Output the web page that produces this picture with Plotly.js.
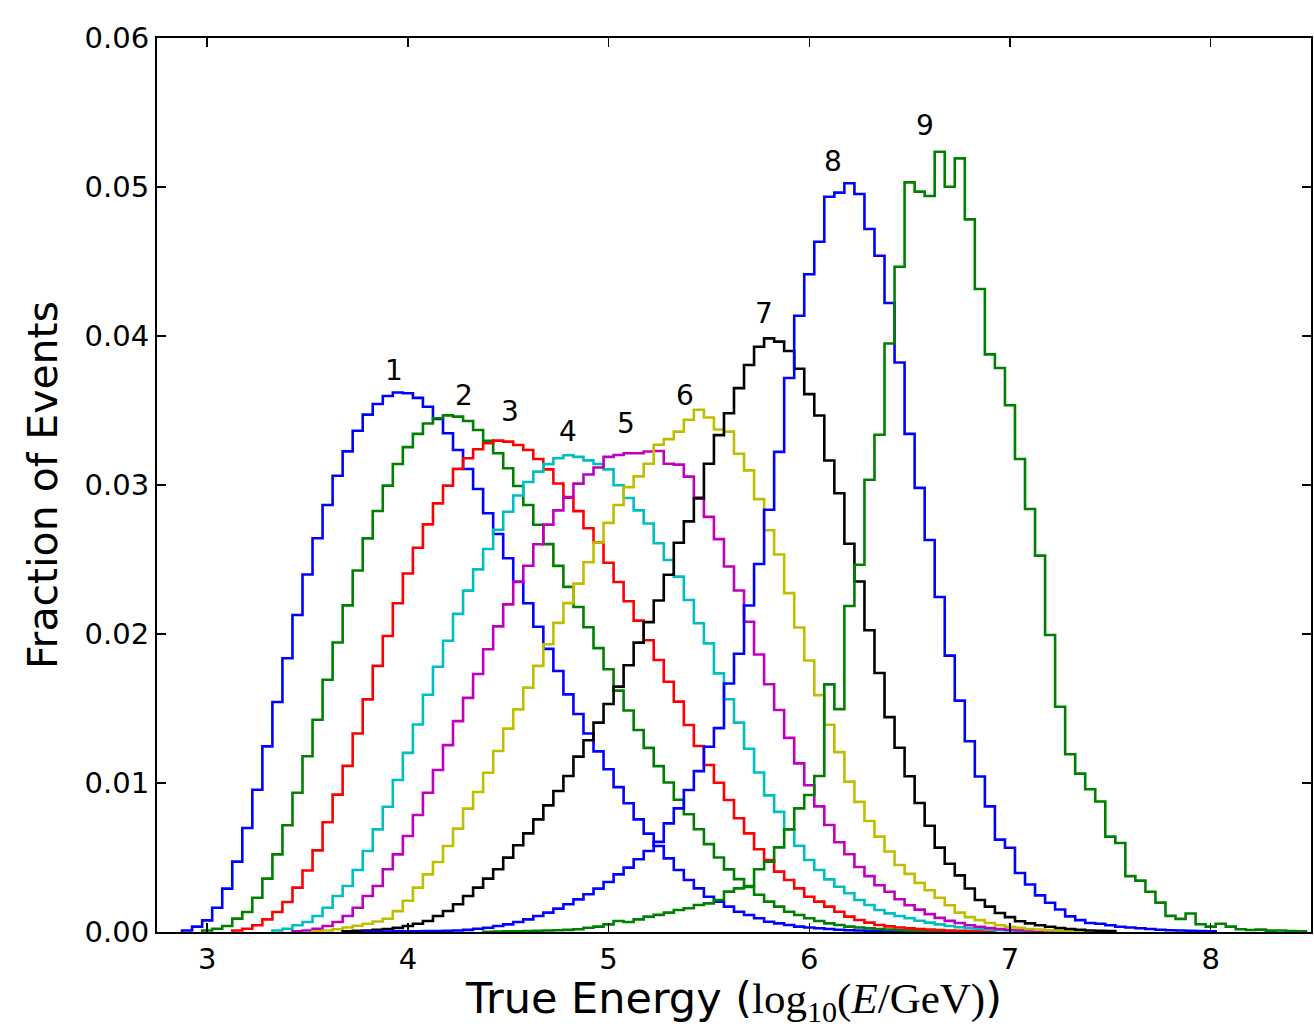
<!DOCTYPE html>
<html>
<head>
<meta charset="utf-8">
<script src="https://cdn.plot.ly/plotly-3.0.1.min.js"></script>
<style>html,body{margin:0;padding:0;background:#fff}#chart{width:1314px;height:1029px}</style>
</head>
<body>
<div id="chart"></div>
<script>
// Bin width of the histograms (log10 E / GeV)
const BIN_WIDTH = 0.05;

// Curve labels
const curveLabels = ['1', '2', '3', '4', '5', '6', '7', '8', '9'];

// Centre of the first bin of each series
const firstBin = [2.90, 3.00, 3.15, 3.35, 3.45, 3.55, 3.70, 3.80, 4.40];

// Fraction of events per bin (one value per 0.05 bin, starting at firstBin)
const series1 = [0.0001,0.00036,0.00078,0.00163,0.00291,0.00472,0.00698,0.00955,0.01246,0.01544,0.01837,0.02128,0.02399,0.02643,0.02866,0.03062,0.03226,0.03364,0.03472,0.03544,0.03597,0.03621,0.03616,0.03585,0.03525,0.03443,0.03347,0.03235,0.03107,0.02973,0.0281,0.02671,0.02508,0.02351,0.02206,0.02049,0.019,0.01752,0.01595,0.01463,0.01332,0.01212,0.01092,0.00972,0.00864,0.00756,0.0066,0.00577,0.00494,0.00416,0.00349,0.00293,0.00237,0.00204,0.0017,0.00136,0.00114,0.00092,0.00069,0.00058,0.00047,0.00036,0.0003,0.00025,0.0002,0.00015,0.00012,0.0001,0.00008,0.00006,0.00005,0.00004,0.00003];
const series2 = [0.0001,0.00022,0.0004,0.0009,0.00134,0.0023,0.00358,0.00521,0.00716,0.00935,0.0118,0.01425,0.01693,0.01943,0.02192,0.02426,0.02642,0.02826,0.02996,0.03141,0.03254,0.03343,0.03413,0.03448,0.03467,0.03459,0.0343,0.03369,0.03297,0.03213,0.03112,0.02993,0.02866,0.02733,0.02603,0.02457,0.02316,0.02181,0.02045,0.01905,0.01763,0.0162,0.01487,0.01356,0.01236,0.01113,0.01003,0.00888,0.0079,0.0069,0.0059,0.005,0.0042,0.00355,0.00303,0.0025,0.00204,0.0017,0.00136,0.00114,0.00092,0.00074,0.00058,0.00047,0.00036,0.0003,0.00025,0.0002,0.00016,0.00013,0.0001,0.00008,0.00006,0.00005,0.00004];
const series3 = [0.0001,0.00022,0.00045,0.00085,0.00134,0.00201,0.00298,0.00413,0.00548,0.00737,0.00922,0.01115,0.01332,0.01561,0.01786,0.01987,0.02206,0.02406,0.02579,0.02736,0.02877,0.02996,0.03108,0.0318,0.0324,0.0328,0.03298,0.03291,0.03268,0.03235,0.03175,0.03105,0.0301,0.02915,0.02825,0.0271,0.02615,0.02478,0.02349,0.0222,0.0209,0.01958,0.01826,0.0168,0.01546,0.01389,0.01248,0.01121,0.01002,0.00886,0.00763,0.00662,0.00555,0.00483,0.00405,0.00349,0.00293,0.00237,0.00204,0.0017,0.00136,0.00103,0.00081,0.00063,0.00047,0.00038,0.0003,0.00024,0.0002,0.00016,0.00013,0.0001,0.00008,0.00006,0.00005,0.00004];
const series4 = [0.0001,0.00022,0.00045,0.00067,0.00107,0.00163,0.00242,0.00309,0.00416,0.00544,0.00689,0.00841,0.0102,0.01202,0.01393,0.01592,0.0178,0.01955,0.02135,0.02291,0.02434,0.0257,0.027,0.0282,0.0293,0.0302,0.0309,0.0314,0.0318,0.032,0.03189,0.03165,0.03141,0.03105,0.02998,0.02913,0.0283,0.02742,0.02609,0.02497,0.02385,0.02228,0.02072,0.01937,0.01736,0.01562,0.01405,0.0123,0.0107,0.00917,0.00806,0.0069,0.00579,0.00483,0.00416,0.00353,0.00304,0.0026,0.00215,0.00181,0.00148,0.00125,0.00107,0.00092,0.00076,0.00063,0.00051,0.0004,0.00032,0.00025,0.0002,0.00015,0.00012,0.0001,0.00008,0.00006,0.00005];
const series5 = [0.00005,0.0001,0.00022,0.0004,0.00067,0.00107,0.00163,0.00242,0.00309,0.00421,0.00521,0.00644,0.00785,0.00935,0.01087,0.01254,0.01415,0.01571,0.01732,0.01898,0.02051,0.02199,0.0235,0.02458,0.02602,0.02734,0.0283,0.02919,0.03009,0.0307,0.03117,0.03189,0.03201,0.03213,0.03213,0.03225,0.03228,0.03143,0.03137,0.03056,0.02916,0.02786,0.02637,0.02453,0.02292,0.02082,0.01862,0.01663,0.0149,0.01303,0.01132,0.00985,0.00843,0.00718,0.00602,0.00522,0.00436,0.00375,0.00314,0.0027,0.0022,0.0018,0.0015,0.0012,0.00095,0.00075,0.0006,0.00045,0.00035,0.00027,0.0002,0.00015,0.00012,0.0001,0.00008,0.00006,0.00005];
const series6 = [0.00005,0.0001,0.00018,0.0003,0.00042,0.00055,0.0007,0.00089,0.0014,0.0021,0.00298,0.00387,0.0047,0.00577,0.00694,0.00828,0.0094,0.01069,0.01215,0.01365,0.01494,0.0164,0.01786,0.01931,0.02075,0.02207,0.02338,0.02482,0.02614,0.02746,0.02866,0.02986,0.03058,0.03143,0.0327,0.03308,0.03358,0.03438,0.03505,0.03453,0.03372,0.03358,0.0321,0.03098,0.02905,0.02696,0.02534,0.02274,0.02044,0.01822,0.0159,0.01391,0.01207,0.01009,0.00873,0.00745,0.0064,0.0054,0.0045,0.0039,0.0033,0.0028,0.0023,0.0018,0.0013,0.001,0.0008,0.0006,0.00045,0.00035,0.00028,0.0002,0.00016,0.00012,0.0001,0.00008,0.00006];
const series7 = [0.00005,0.00008,0.0001,0.00015,0.0002,0.00028,0.0004,0.00055,0.00074,0.00107,0.00141,0.00186,0.00242,0.00298,0.00358,0.00421,0.00499,0.00582,0.00662,0.00756,0.0085,0.00946,0.01047,0.01177,0.01287,0.01405,0.0153,0.01647,0.0179,0.01942,0.0208,0.02225,0.02398,0.02612,0.02756,0.0291,0.03143,0.03335,0.03482,0.0365,0.03805,0.03928,0.03984,0.03962,0.03899,0.0378,0.0361,0.03466,0.03164,0.02945,0.02606,0.02352,0.02025,0.01738,0.01442,0.01237,0.01045,0.00866,0.00713,0.00566,0.00458,0.0038,0.00292,0.00215,0.0017,0.00128,0.001,0.00072,0.00058,0.00045,0.00035,0.00027,0.0002,0.00015,0.0001,0.00008,0.00006];
const series8 = [0.00002,0.00003,0.00003,0.00004,0.00005,0.00005,0.00006,0.00007,0.00008,0.0001,0.00014,0.00022,0.00029,0.0004,0.00051,0.00067,0.00085,0.00107,0.0013,0.00157,0.00186,0.00219,0.00253,0.00291,0.00336,0.00387,0.00432,0.00488,0.00544,0.00605,0.00729,0.0083,0.00953,0.0108,0.01243,0.01368,0.01668,0.01867,0.02191,0.0247,0.02834,0.03222,0.03718,0.04136,0.04414,0.04633,0.04935,0.04962,0.05025,0.04953,0.04718,0.04539,0.04221,0.03822,0.03343,0.02981,0.02631,0.02248,0.01855,0.01553,0.0128,0.01044,0.00843,0.0062,0.00565,0.00396,0.00319,0.00246,0.00196,0.00151,0.00105,0.0008,0.0006,0.00055,0.00045,0.00035,0.0003,0.00025,0.0002,0.00015,0.00012,0.0001,0.00008,0.00006,0.00005];
const series9 = [0.00002,0.00003,0.00004,0.00005,0.00006,0.00008,0.0001,0.00012,0.00014,0.00018,0.00029,0.00036,0.00051,0.00074,0.00067,0.00085,0.00103,0.00115,0.0013,0.00148,0.00159,0.00181,0.00192,0.00215,0.00271,0.00293,0.00309,0.00421,0.00472,0.00568,0.00689,0.0083,0.00919,0.01047,0.01662,0.01496,0.02188,0.02465,0.03035,0.03337,0.0395,0.04465,0.05031,0.04969,0.0494,0.05237,0.05002,0.05192,0.04783,0.04315,0.03877,0.03785,0.03535,0.03175,0.02839,0.02526,0.01993,0.01512,0.01193,0.01063,0.00958,0.00876,0.0064,0.00597,0.00375,0.00345,0.0027,0.00197,0.00108,0.00088,0.00124,0.00052,0.00036,0.00055,0.00036,0.00018,0.00013,0.00016,0.00009,0.0001,0.00006,0.00004];

const allSeries = [series1, series2, series3, series4, series5, series6, series7, series8, series9];

// Styles (matplotlib classic cycle)
const lineColors = ['#0000ff', '#008000', '#ff0000', '#00bfbf', '#bf00bf', '#bfbf00', '#000000', '#0000ff', '#008000'];

function stepOutline(start, values) {
  const r = v => Math.round(v * 100000) / 100000;
  const left = start - BIN_WIDTH / 2;
  const x = [r(left)], y = [0];
  values.forEach((v, i) => { x.push(r(left + i * BIN_WIDTH)); y.push(v); });
  const right = r(left + values.length * BIN_WIDTH);
  x.push(right); y.push(values[values.length - 1]);
  x.push(right); y.push(0);
  return { x, y };
}

const traces = allSeries.map((vals, k) => {
  const o = stepOutline(firstBin[k], vals);
  return {
    type: 'scatter', mode: 'lines', x: o.x, y: o.y,
    name: curveLabels[k], showlegend: false, hoverinfo: 'skip',
    line: { shape: 'hv', color: lineColors[k], width: 2.6 }
  };
});

// Label placement (annotation anchor points in data coordinates)
const labelPos = [[3.93, 0.0377], [4.28, 0.0360], [4.51, 0.0349], [4.80, 0.0336], [5.085, 0.0341], [5.38, 0.0360], [5.776, 0.0415], [6.12, 0.0517], [6.577, 0.0541]];
const annotations = curveLabels.map((t, k) => ({
  x: labelPos[k][0], y: labelPos[k][1], xref: 'x', yref: 'y', text: t, showarrow: false,
  font: { family: 'DejaVu Sans', size: 28, color: '#000' }
}));

const axisCommon = {
  showline: true, linecolor: '#000', linewidth: 2, mirror: 'allticks',
  ticks: 'inside', ticklen: 9, tickwidth: 1.5, tickcolor: '#000',
  showgrid: false, zeroline: false,
  tickfont: { family: 'DejaVu Sans', size: 29, color: '#000' }
};

const layout = {
  width: 1314, height: 1029,
  margin: { l: 157, r: 3, t: 38, b: 97, pad: 0 },
  paper_bgcolor: '#ffffff', plot_bgcolor: '#ffffff',
  xaxis: Object.assign({}, axisCommon, {
    range: [2.75, 8.5], tickmode: 'linear', tick0: 3, dtick: 1,
    title: { text: 'True Energy (<span style="font-family:\'Liberation Serif\'">log<sub>10</sub>(<i>E</i>/GeV)</span>)',
             font: { family: 'DejaVu Sans', size: 43, color: '#000' }, standoff: 10 }
  }),
  yaxis: Object.assign({}, axisCommon, {
    range: [0, 0.06], tickmode: 'linear', tick0: 0, dtick: 0.01, tickformat: '.2f',
    title: { text: 'Fraction of Events', font: { family: 'DejaVu Sans', size: 41, color: '#000' }, standoff: 14 }
  }),
  annotations: annotations
};

Plotly.newPlot('chart', traces, layout, { staticPlot: true, displayModeBar: false });
</script>
</body>
</html>
